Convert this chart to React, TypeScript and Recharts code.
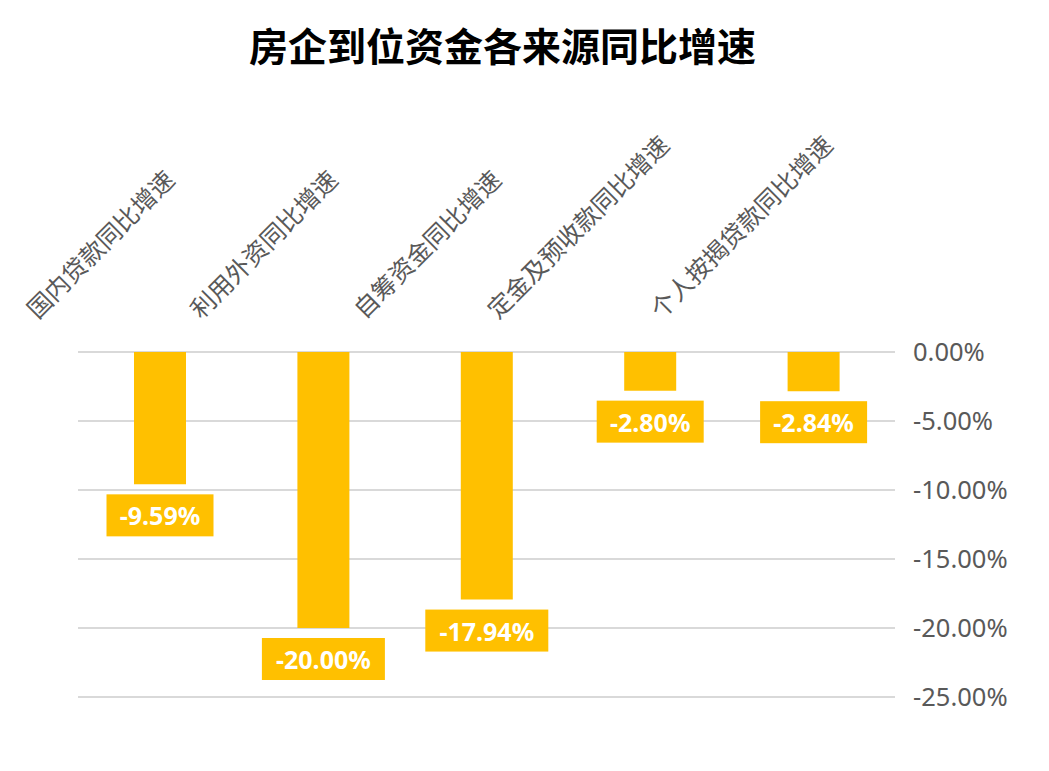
import { Bar, BarChart, CartesianGrid, LabelList, XAxis, YAxis } from "recharts";
import { type JSX } from "react";

const categories = [
  "国内贷款同比增速",
  "利用外资同比增速",
  "自筹资金同比增速",
  "定金及预收款同比增速",
  "个人按揭贷款同比增速",
];
const growthValues = [-9.59, -20.0, -17.94, -2.8, -2.84];
const yTicks = [0, -5, -10, -15, -20, -25];

const data = categories.map((name, i) => ({ name, value: growthValues[i] }));

const CategoryTick = ({ x, y, payload }: any) => {
  const label: string = payload.value;
  const n = label.length;
  // rotated labels sit with their start on a common baseline above the plot
  const x0 = x - n * 15 - 2;
  const y0 = y - 32;
  return (
    <text
      x={x0}
      y={y0}
      fill="#595959"
      fontSize={24.5}
      fontFamily="'Noto Sans CJK SC', sans-serif"
      textAnchor="start"
      transform={`rotate(-45, ${x0}, ${y0})`}
    >
      {label}
    </text>
  );
};

const ValueBox = ({ x, y, width, height, value }: any) => {
  const text = `${Number(value).toFixed(2)}%`;
  const bottom = Math.max(y, y + height);
  const cx = x + width / 2;
  const boxW = text.length * 16 + 11;
  const boxH = 42;
  const top = bottom + 10;
  return (
    <g>
      <rect x={cx - boxW / 2} y={top} width={boxW} height={boxH} fill="#FFC000" />
      <text
        x={cx}
        y={top + boxH / 2}
        fill="#ffffff"
        fontSize={25}
        fontWeight={700}
        fontFamily="'Noto Sans', sans-serif"
        textAnchor="middle"
        dominantBaseline="central"
      >
        {text}
      </text>
    </g>
  );
};

const App = (): JSX.Element => {
  return (
    <div style={{ position: "absolute", left: 0, top: 0, width: 1049, height: 771, background: "#fff" }}>
      <div
        style={{
          position: "absolute",
          left: 0,
          top: 18,
          width: 1005,
          textAlign: "center",
          fontSize: 39,
          fontWeight: 700,
          lineHeight: "52px",
          color: "#000",
          fontFamily: "'Noto Sans CJK SC', sans-serif",
        }}
      >
        房企到位资金各来源同比增速
      </div>
      <BarChart
        width={1049}
        height={771}
        data={data}
        margin={{ top: 52, right: 0, left: 78, bottom: 74 }}
      >
        <CartesianGrid vertical={false} stroke="#d9d9d9" strokeWidth={2} />
        <XAxis
          dataKey="name"
          orientation="top"
          height={300}
          axisLine={false}
          tickLine={false}
          tickSize={0}
          tickMargin={0}
          interval={0}
          tick={<CategoryTick />}
        />
        <YAxis
          orientation="right"
          width={154}
          domain={[-25, 0]}
          ticks={yTicks}
          axisLine={false}
          tickLine={false}
          tickSize={0}
          tickMargin={18}
          tickFormatter={(v: number) => `${v.toFixed(2)}%`}
          tick={{ fill: "#595959", fontSize: 25.5, fontFamily: "'Noto Sans', sans-serif", textAnchor: "start" }}
        />
        <Bar dataKey="value" fill="#FFC000" barSize={52} isAnimationActive={false}>
          <LabelList dataKey="value" content={<ValueBox />} />
        </Bar>
      </BarChart>
    </div>
  );
};

export default App;
